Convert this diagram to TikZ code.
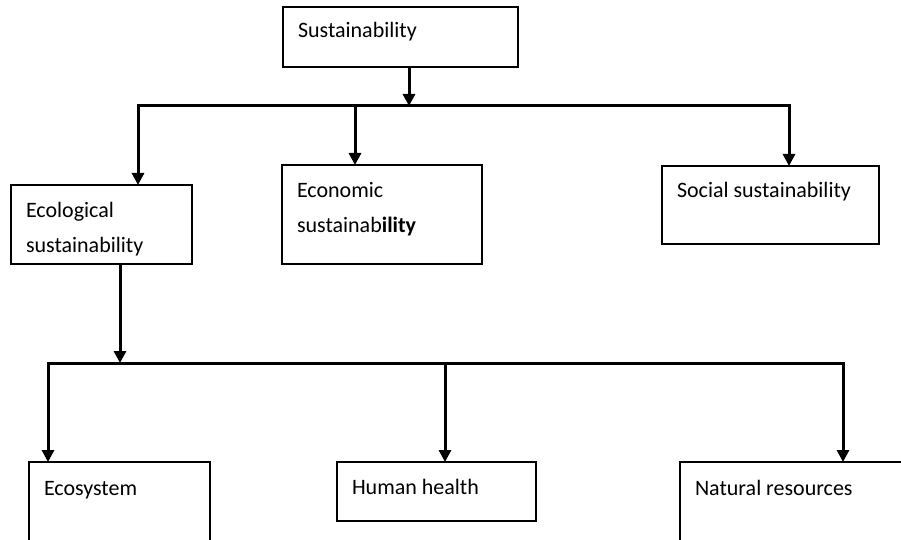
\documentclass[tikz,border=0pt]{standalone}
\usepackage{fontspec}
\setmainfont{Carlito}
\usetikzlibrary{arrows.meta}
\tikzset{
  box/.style = {
    draw, line width=1.2pt, anchor=north west, align=flush left,
    inner xsep=15pt, inner ysep=0pt, outer sep=0pt,
    font=\fontsize{22}{35}\selectfont
  },
  link/.style = {line width=3pt, -{Triangle[length=12pt, width=12pt]}},
  bus/.style = {line width=3pt, line cap=rect}
}

\begin{document}
\begin{tikzpicture}[x=1pt, y=-1pt]

  \useasboundingbox (0,0) rectangle (901,540);
  \clip (0,0) rectangle (901,540);

  % Boxes
  \node[box, text width=205pt, text height=31pt, text depth=29pt] (sust) at (283,7) {Sustainability};
  \node[box, text width=151pt, text height=32pt, text depth=47pt] (eco) at (11,185) {Ecological\\sustainability};
  \node[box, text width=170pt, text height=32pt, text depth=67pt] (econ) at (282,165) {Economic\\sustainab\textbf{ility}};
  \node[box, text width=187pt, text height=31pt, text depth=47pt] (social) at (662,166) {Social sustainability};
  \node[box, text width=151pt, text height=33pt, text depth=67pt] (ecosys) at (29,462) {Ecosystem};
  \node[box, text width=169pt, text height=32pt, text depth=27pt] (health) at (337,462) {Human health};
  \node[box, text width=220pt, text height=33pt, text depth=67pt] (natural) at (680,462) {Natural resources};

  % Bus points
  \coordinate (topin) at (409,106);
  \coordinate (topl) at (138,106);
  \coordinate (topm) at (355,106);
  \coordinate (topr) at (789,106);
  \coordinate (lowin) at (120,363);
  \coordinate (lowl) at (48,363);
  \coordinate (lowm) at (445,363);
  \coordinate (lowr) at (843,363);

  % Upper level
  \draw[link] (sust.south -| topin) -- (topin);
  \draw[bus] (topl) -- (topr);
  \draw[link] (topl) -- (topl |- eco.north);
  \draw[link] (topm) -- (topm |- econ.north);
  \draw[link] (topr) -- (topr |- social.north);

  % Lower level
  \draw[link] (eco.south -| lowin) -- (lowin);
  \draw[bus] (lowl) -- (lowr);
  \draw[link] (lowl) -- (lowl |- ecosys.north);
  \draw[link] (lowm) -- (lowm |- health.north);
  \draw[link] (lowr) -- (lowr |- natural.north);

\end{tikzpicture}
\end{document}
